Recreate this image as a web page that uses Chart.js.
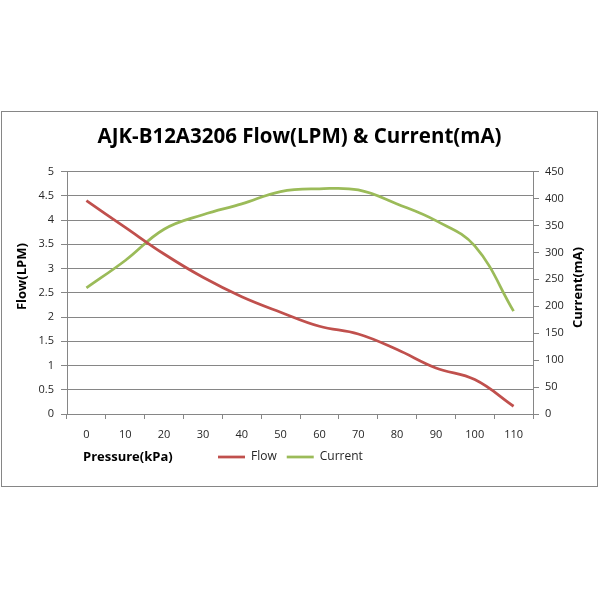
<!DOCTYPE html>
<html lang="en">
<head>
    <meta charset="UTF-8">
    <title>AJK-B12A3206 Flow & Current</title>
    <style>
        body {
            margin: 0;
            background: #ffffff;
        }

        .chart-box {
            position: absolute;
            left: 1px;
            top: 111px;
            width: 595px;
            height: 374px;
            border: 1px solid #868686;
        }
    </style>
</head>
<body>
    <div class="chart-box">
        <canvas id="pumpChart"></canvas>
    </div>

    <script src="https://cdn.jsdelivr.net/npm/chart.js"></script>
    <script>
        // values
        const pressure = ['0', '10', '20', '30', '40', '50', '60', '70', '80', '90', '100', '110'];
        const flow = [4.4, 3.85, 3.3, 2.82, 2.42, 2.1, 1.81, 1.65, 1.33, 0.95, 0.71, 0.16];
        const current = [234, 285, 343, 370, 390, 413, 418, 416, 390, 359, 312, 191];

        const chartTitle = 'AJK-B12A3206 Flow(LPM) & Current(mA)';
        const xTitle = 'Pressure(kPa)';
        const yTitle = 'Flow(LPM)';
        const y1Title = 'Current(mA)';

        const FONT = '"Open Sans", "DejaVu Sans", sans-serif';
        const GRID = '#868686';
        const TEXT = '#262626';

        // axis titles are drawn by hand so they sit where Excel puts them
        const axisTitles = {
            id: 'axisTitles',
            beforeInit(chart) {
                // legend takes no layout space; it is placed next to the x title
                const fit = chart.legend.fit;
                chart.legend.fit = function () {
                    fit.call(this);
                    this.height = 0;
                };
            },
            afterLayout(chart) {
                const lg = chart.legend;
                const area = chart.chartArea;
                const pad = lg.options.labels.padding;
                const dx = area.left + 151 - pad - lg.left;
                const top = area.bottom + 43 - pad - 6;
                lg.left += dx;
                lg.right += dx;
                lg.top = top;
                lg.bottom = top + 20;
            },
            afterDraw(chart) {
                const { ctx, chartArea } = chart;
                ctx.save();
                ctx.fillStyle = '#000';
                ctx.font = 'bold 13px ' + FONT;
                ctx.textBaseline = 'middle';

                ctx.textAlign = 'left';
                ctx.fillText(xTitle, chartArea.left + 16, chartArea.bottom + 43);

                ctx.textAlign = 'center';
                ctx.save();
                ctx.translate(chartArea.left - 45, chartArea.top + 105);
                ctx.rotate(-Math.PI / 2);
                ctx.fillText(yTitle, 0, 0);
                ctx.restore();

                ctx.save();
                ctx.translate(chartArea.right + 45, chartArea.top + 116);
                ctx.rotate(-Math.PI / 2);
                ctx.fillText(y1Title, 0, 0);
                ctx.restore();

                ctx.restore();
            }
        };

        const ctx = document.getElementById('pumpChart').getContext('2d');

        new Chart(ctx, {
            type: 'line',
            data: {
                labels: pressure,
                datasets: [
                    {
                        label: 'Flow',
                        data: flow,
                        yAxisID: 'y',
                        borderColor: '#C0504D',
                        backgroundColor: '#C0504D',
                        borderWidth: 2.75,
                        pointRadius: 0,
                        tension: 0.4,
                        fill: false
                    },
                    {
                        label: 'Current',
                        data: current,
                        yAxisID: 'y1',
                        borderColor: '#9BBB59',
                        backgroundColor: '#9BBB59',
                        borderWidth: 2.75,
                        pointRadius: 0,
                        tension: 0.4,
                        fill: false
                    }
                ]
            },
            options: {
                responsive: true,
                maintainAspectRatio: false,
                animation: false,
                layout: {
                    padding: 0
                },
                plugins: {
                    title: {
                        display: true,
                        text: chartTitle,
                        color: '#000',
                        font: { family: FONT, size: 20.5, weight: 'bold' },
                        padding: { top: 13, bottom: 22 }
                    },
                    legend: {
                        display: true,
                        position: 'bottom',
                        align: 'start',
                        labels: {
                            usePointStyle: true,
                            pointStyle: 'line',
                            pointStyleWidth: 27,
                            padding: 10,
                            color: TEXT,
                            font: { family: FONT, size: 12 }
                        }
                    },
                    tooltip: { enabled: false }
                },
                scales: {
                    x: {
                        offset: true,
                        afterFit(scale) { scale.height = 72; },
                        grid: {
                            display: true,
                            offset: true,
                            drawOnChartArea: false,
                            drawTicks: true,
                            tickLength: 5,
                            color: GRID
                        },
                        border: { display: true, color: GRID },
                        ticks: {
                            color: TEXT,
                            padding: 9,
                            maxRotation: 0,
                            font: { family: FONT, size: 11 }
                        }
                    },
                    y: {
                        position: 'left',
                        min: 0,
                        max: 5,
                        afterFit(scale) { scale.width = 65; },
                        grid: {
                            color: GRID,
                            tickLength: 6
                        },
                        border: { display: true, color: GRID },
                        ticks: {
                            stepSize: 0.5,
                            color: TEXT,
                            padding: 7,
                            font: { family: FONT, size: 11 },
                            callback: (value) => String(value)
                        }
                    },
                    y1: {
                        position: 'right',
                        min: 0,
                        max: 450,
                        afterFit(scale) { scale.width = 64; },
                        grid: {
                            drawOnChartArea: false,
                            color: GRID,
                            tickLength: 6
                        },
                        border: { display: true, color: GRID },
                        ticks: {
                            stepSize: 50,
                            color: TEXT,
                            padding: 6,
                            font: { family: FONT, size: 11 }
                        }
                    }
                }
            },
            plugins: [axisTitles]
        });
    </script>
</body>
</html>
